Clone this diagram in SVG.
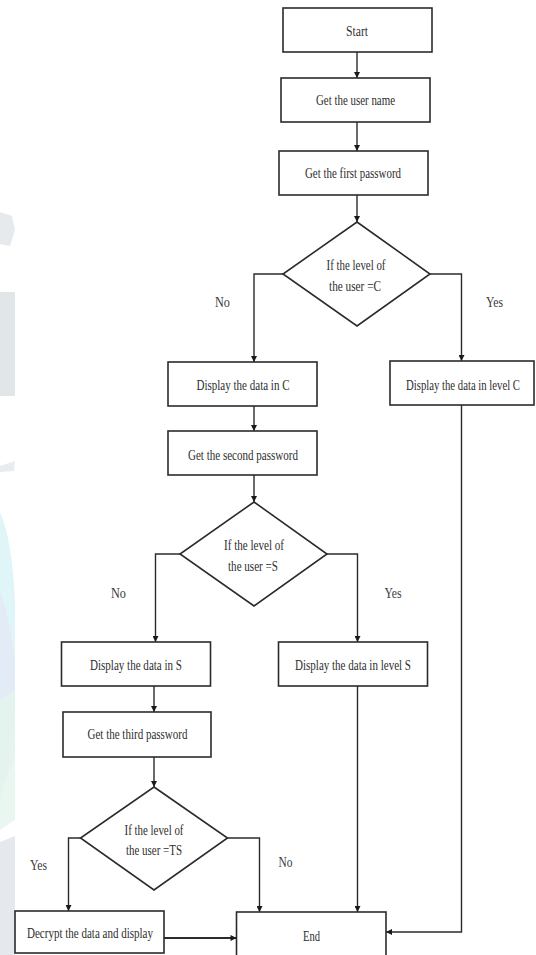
<svg xmlns="http://www.w3.org/2000/svg" width="536" height="955" viewBox="0 0 536 955">
<style>
.box{fill:#fff;stroke:#2b2b2b;stroke-width:1.6}
.dia{fill:#fff;stroke:#2b2b2b;stroke-width:1.6}
.ln{fill:none;stroke:#2b2b2b;stroke-width:1.4}
.t{font-family:"Liberation Serif","Times New Roman",serif;font-size:14px;fill:#2e2e2e;text-anchor:middle}
.lb{font-family:"Liberation Serif","Times New Roman",serif;font-size:14px;fill:#3a3a3a;text-anchor:middle}
</style>
<defs>
<marker id="ah" viewBox="0 0 10 10" refX="10" refY="5" markerWidth="8" markerHeight="6" markerUnits="userSpaceOnUse" orient="auto">
<path d="M0,0 L10,5 L0,10 z" fill="#1a1a1a"/>
</marker>
</defs>
<rect width="536" height="955" fill="#fff"/>
<g id="watermark">
<path d="M0,212 L12,216 L15,230 L10,246 L0,244 z" fill="#e6eaed"/>
<rect x="0" y="292" width="15" height="104" fill="#e1e6e9"/>
<path d="M0,466 L15,461 L14,471 L0,472 z" fill="#e8ecee"/>
<path d="M0,512 Q12,540 15,600 L15,700 Q12,760 0,800 z" fill="#e0f5f7"/>
<path d="M0,590 Q10,620 15,660 L15,760 L0,790 z" fill="#e3e8f5" opacity="0.8"/>
<path d="M0,700 L15,690 L15,820 L0,830 z" fill="#e5f5ed" opacity="0.8"/>
<path d="M0,842 L15,836 L15,955 L0,955 z" fill="#e5e9ed"/>
</g>
<g id="connectors">
<line class="ln" x1="357" y1="52" x2="357" y2="78" marker-end="url(#ah)"/>
<line class="ln" x1="357" y1="122" x2="357" y2="151" marker-end="url(#ah)"/>
<line class="ln" x1="357" y1="195" x2="357" y2="222" marker-end="url(#ah)"/>
<polyline class="ln" points="283,274 254,274 254,362" marker-end="url(#ah)"/>
<polyline class="ln" points="430,274 461.5,274 461.5,361" marker-end="url(#ah)"/>
<line class="ln" x1="254" y1="406" x2="254" y2="431" marker-end="url(#ah)"/>
<line class="ln" x1="254" y1="475" x2="254" y2="502" marker-end="url(#ah)"/>
<polyline class="ln" points="180,554 155.5,554 155.5,642" marker-end="url(#ah)"/>
<polyline class="ln" points="327,554 357.5,554 357.5,642" marker-end="url(#ah)"/>
<line class="ln" x1="154" y1="686" x2="154" y2="712" marker-end="url(#ah)"/>
<line class="ln" x1="154" y1="757" x2="154" y2="787" marker-end="url(#ah)"/>
<polyline class="ln" points="80.5,838 68.5,838 68.5,911" marker-end="url(#ah)"/>
<polyline class="ln" points="227.5,838 259.5,838 259.5,912" marker-end="url(#ah)"/>
<line class="ln" x1="164" y1="938" x2="236.5" y2="938" marker-end="url(#ah)" style="stroke-width:2"/>
<line class="ln" x1="357.5" y1="686" x2="357.5" y2="912" marker-end="url(#ah)"/>
<polyline class="ln" points="461.5,405 461.5,932 386,932" marker-end="url(#ah)"/>
<text class="lb" x="222.5" y="306.5" textLength="15" lengthAdjust="spacingAndGlyphs">No</text>
<text class="lb" x="494.5" y="306.5" textLength="17" lengthAdjust="spacingAndGlyphs">Yes</text>
<text class="lb" x="118.5" y="597.5" textLength="15" lengthAdjust="spacingAndGlyphs">No</text>
<text class="lb" x="393" y="597.5" textLength="17" lengthAdjust="spacingAndGlyphs">Yes</text>
<text class="lb" x="38.5" y="869.5" textLength="17" lengthAdjust="spacingAndGlyphs">Yes</text>
<text class="lb" x="285.5" y="866.5" textLength="14" lengthAdjust="spacingAndGlyphs">No</text>
</g>
<g id="start">
<rect class="box" x="283" y="8" width="149" height="44"/>
<text class="t" x="357" y="35.5" textLength="22" lengthAdjust="spacingAndGlyphs">Start</text>
</g>
<g id="get-user-name">
<rect class="box" x="281" y="78" width="149" height="44"/>
<text class="t" x="355.5" y="104.5" textLength="79" lengthAdjust="spacingAndGlyphs">Get the user name</text>
</g>
<g id="get-first-password">
<rect class="box" x="279" y="151" width="149" height="44"/>
<text class="t" x="353" y="177.5" textLength="96" lengthAdjust="spacingAndGlyphs">Get the first password</text>
</g>
<g id="decision-c">
<polygon class="dia" points="357,222 430,274 357,326 283,274"/>
<text class="t" x="356" y="269.5" textLength="59" lengthAdjust="spacingAndGlyphs">If the level of</text>
<text class="t" x="355" y="291" textLength="52" lengthAdjust="spacingAndGlyphs">the user =C</text>
</g>
<g id="display-c">
<rect class="box" x="168" y="362" width="149" height="44"/>
<text class="t" x="243" y="389.5" textLength="93" lengthAdjust="spacingAndGlyphs">Display the data in C</text>
</g>
<g id="display-level-c">
<rect class="box" x="390" y="361" width="144" height="44"/>
<text class="t" x="463" y="389.5" textLength="114" lengthAdjust="spacingAndGlyphs">Display the data in level C</text>
</g>
<g id="get-second-password">
<rect class="box" x="168" y="431" width="149" height="44"/>
<text class="t" x="243" y="459.5" textLength="110" lengthAdjust="spacingAndGlyphs">Get the second password</text>
</g>
<g id="decision-s">
<polygon class="dia" points="254,502 327,554 254,606 180,554"/>
<text class="t" x="254" y="550" textLength="60" lengthAdjust="spacingAndGlyphs">If the level of</text>
<text class="t" x="253" y="571" textLength="50" lengthAdjust="spacingAndGlyphs">the user =S</text>
</g>
<g id="display-s">
<rect class="box" x="61.5" y="642" width="149" height="44"/>
<text class="t" x="136" y="669.5" textLength="92" lengthAdjust="spacingAndGlyphs">Display the data in S</text>
</g>
<g id="display-level-s">
<rect class="box" x="278.5" y="642" width="149" height="44"/>
<text class="t" x="353" y="669.5" textLength="116" lengthAdjust="spacingAndGlyphs">Display the data in level S</text>
</g>
<g id="get-third-password">
<rect class="box" x="63" y="712" width="148" height="45"/>
<text class="t" x="137.5" y="738.5" textLength="100" lengthAdjust="spacingAndGlyphs">Get the third password</text>
</g>
<g id="decision-ts">
<polygon class="dia" points="154,787 227.5,838 154,890 80.5,838"/>
<text class="t" x="154" y="834.5" textLength="59" lengthAdjust="spacingAndGlyphs">If the level of</text>
<text class="t" x="154" y="854.5" textLength="56" lengthAdjust="spacingAndGlyphs">the user =TS</text>
</g>
<g id="decrypt">
<rect class="box" x="15" y="911" width="149" height="42"/>
<text class="t" x="90" y="937.5" textLength="126" lengthAdjust="spacingAndGlyphs">Decrypt the data and display</text>
</g>
<g id="end">
<rect class="box" x="236.5" y="912" width="149.5" height="50"/>
<text class="t" x="311.5" y="940.5" textLength="17" lengthAdjust="spacingAndGlyphs">End</text>
</g>
</svg>
